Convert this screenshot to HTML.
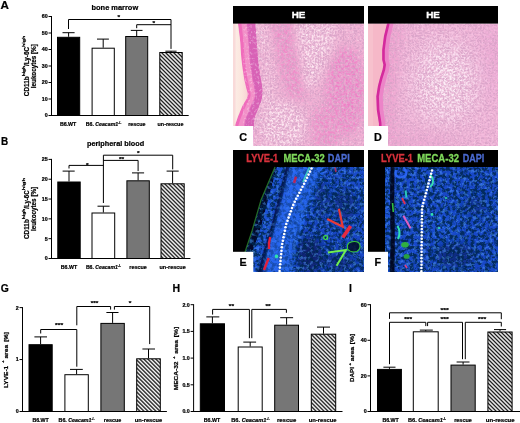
<!DOCTYPE html>
<html><head><meta charset="utf-8"><style>
html,body{margin:0;padding:0;background:#fff;}
svg{display:block;font-family:"Liberation Sans", sans-serif;will-change:transform;}
text{stroke:#000;stroke-width:0.22px;}
text.w{stroke:#fff;stroke-width:0.35px;}
text.r{stroke:#d8323c;stroke-width:0.3px;}
text.g{stroke:#7ed85a;stroke-width:0.3px;}
text.b{stroke:#4a6ad0;stroke-width:0.3px;}
</style></head><body>
<svg width="520" height="423" viewBox="0 0 520 423">
<defs>
<pattern id="hatch" patternUnits="userSpaceOnUse" width="2.83" height="2.83" patternTransform="rotate(-45)">
<rect x="0" y="0" width="2.83" height="2.83" fill="#fff"/>
<rect x="0" y="0" width="1.25" height="2.83" fill="#000"/>
</pattern>
</defs>
<rect width="520" height="423" fill="#fff"/>

<text x="0.60" y="9.00" font-size="11.6" font-weight="bold" fill="#000" textLength="8.40" lengthAdjust="spacingAndGlyphs">A</text>
<text x="91.50" y="9.50" font-size="7.4" font-weight="bold" fill="#000" textLength="46.70" lengthAdjust="spacingAndGlyphs">bone marrow</text>
<line x1="51.50" y1="16.00" x2="51.50" y2="116.00" stroke="#000" stroke-width="1.0"/>
<line x1="48.50" y1="16.50" x2="51.50" y2="16.50" stroke="#000" stroke-width="1.0"/>
<text x="47.70" y="18.40" font-size="5.3" font-weight="bold" text-anchor="end">60</text>
<line x1="48.50" y1="33.00" x2="51.50" y2="33.00" stroke="#000" stroke-width="1.0"/>
<text x="47.70" y="34.90" font-size="5.3" font-weight="bold" text-anchor="end">50</text>
<line x1="48.50" y1="49.50" x2="51.50" y2="49.50" stroke="#000" stroke-width="1.0"/>
<text x="47.70" y="51.40" font-size="5.3" font-weight="bold" text-anchor="end">40</text>
<line x1="48.50" y1="66.00" x2="51.50" y2="66.00" stroke="#000" stroke-width="1.0"/>
<text x="47.70" y="67.90" font-size="5.3" font-weight="bold" text-anchor="end">30</text>
<line x1="48.50" y1="82.50" x2="51.50" y2="82.50" stroke="#000" stroke-width="1.0"/>
<text x="47.70" y="84.40" font-size="5.3" font-weight="bold" text-anchor="end">20</text>
<line x1="48.50" y1="99.00" x2="51.50" y2="99.00" stroke="#000" stroke-width="1.0"/>
<text x="47.70" y="100.90" font-size="5.3" font-weight="bold" text-anchor="end">10</text>
<line x1="48.50" y1="115.50" x2="51.50" y2="115.50" stroke="#000" stroke-width="1.0"/>
<text x="47.70" y="117.40" font-size="5.3" font-weight="bold" text-anchor="end">0</text>
<line x1="51.50" y1="115.50" x2="188.70" y2="115.50" stroke="#000" stroke-width="1.0"/>
<line x1="68.60" y1="36.80" x2="68.60" y2="32.70" stroke="#000" stroke-width="1.0"/>
<line x1="62.50" y1="32.70" x2="74.60" y2="32.70" stroke="#000" stroke-width="1.0"/>
<rect x="57.50" y="37.30" width="22.20" height="78.20" fill="#000" stroke="#000" stroke-width="1.0"/>
<line x1="103.20" y1="47.70" x2="103.20" y2="39.10" stroke="#000" stroke-width="1.0"/>
<line x1="97.00" y1="39.10" x2="108.90" y2="39.10" stroke="#000" stroke-width="1.0"/>
<rect x="92.10" y="48.20" width="22.20" height="67.30" fill="#fff" stroke="#000" stroke-width="1.0"/>
<line x1="136.70" y1="36.00" x2="136.70" y2="30.40" stroke="#000" stroke-width="1.0"/>
<line x1="130.80" y1="30.40" x2="142.50" y2="30.40" stroke="#000" stroke-width="1.0"/>
<rect x="125.70" y="36.50" width="22.00" height="79.00" fill="#767676" stroke="#000" stroke-width="1.0"/>
<line x1="171.00" y1="52.00" x2="171.00" y2="51.20" stroke="#000" stroke-width="1.0"/>
<line x1="165.40" y1="51.20" x2="176.60" y2="51.20" stroke="#000" stroke-width="1.0"/>
<rect x="159.80" y="52.50" width="22.40" height="63.00" fill="url(#hatch)" stroke="#000" stroke-width="1.0"/>
<polyline points="68.50,29.00 68.50,19.50 171.00,19.50 171.00,48.90" fill="none" stroke="#000" stroke-width="1.0"/>
<polyline points="136.70,28.20 136.70,24.70 171.00,24.70" fill="none" stroke="#000" stroke-width="1.0"/>
<text x="117.40" y="18.90" font-size="5.3" font-weight="bold" fill="#000" textLength="2.60" lengthAdjust="spacingAndGlyphs">*</text>
<text x="152.50" y="25.00" font-size="5.3" font-weight="bold" fill="#000" textLength="2.60" lengthAdjust="spacingAndGlyphs">*</text>
<text x="59.90" y="125.80" font-size="5.5" font-weight="bold" textLength="16.40" lengthAdjust="spacingAndGlyphs">B6.WT</text>
<text x="85.75" y="125.80" font-size="5.5" font-weight="bold" textLength="35.50" lengthAdjust="spacingAndGlyphs">B6. <tspan font-style="italic">Ceacam1</tspan><tspan font-size="3.4" dy="-2.2">-/-</tspan></text>
<text x="128.15" y="125.80" font-size="5.5" font-weight="bold" textLength="17.30" lengthAdjust="spacingAndGlyphs">rescue</text>
<text x="157.55" y="125.80" font-size="5.5" font-weight="bold" textLength="25.90" lengthAdjust="spacingAndGlyphs">un-rescue</text>
<g transform="translate(28.80,96.20) rotate(-90)">
<text x="0.00" y="0.00" font-size="6.3" font-weight="bold" textLength="19.90" lengthAdjust="spacingAndGlyphs">CD11b</text>
<text x="19.90" y="-3.70" font-size="4.0" font-weight="bold" textLength="10.30" lengthAdjust="spacingAndGlyphs">high</text>
<text x="30.20" y="0.00" font-size="6.3" font-weight="bold" textLength="19.00" lengthAdjust="spacingAndGlyphs">/Ly-6C</text>
<text x="49.20" y="-3.70" font-size="4.0" font-weight="bold" textLength="11.30" lengthAdjust="spacingAndGlyphs">high</text>
</g>
<g transform="translate(36.40,88.20) rotate(-90)">
<text x="0.00" y="0.00" font-size="6.3" font-weight="bold" textLength="44.00" lengthAdjust="spacingAndGlyphs">leukocytes [%]</text>
</g>
<text x="0.90" y="145.00" font-size="11.6" font-weight="bold" fill="#000" textLength="7.20" lengthAdjust="spacingAndGlyphs">B</text>
<text x="87.00" y="146.00" font-size="7.3" font-weight="bold" fill="#000" textLength="57.10" lengthAdjust="spacingAndGlyphs">peripheral blood</text>
<line x1="51.50" y1="158.90" x2="51.50" y2="259.00" stroke="#000" stroke-width="1.0"/>
<line x1="48.50" y1="159.40" x2="51.50" y2="159.40" stroke="#000" stroke-width="1.0"/>
<text x="47.70" y="161.30" font-size="5.3" font-weight="bold" text-anchor="end">25</text>
<line x1="48.50" y1="179.22" x2="51.50" y2="179.22" stroke="#000" stroke-width="1.0"/>
<text x="47.70" y="181.12" font-size="5.3" font-weight="bold" text-anchor="end">20</text>
<line x1="48.50" y1="199.04" x2="51.50" y2="199.04" stroke="#000" stroke-width="1.0"/>
<text x="47.70" y="200.94" font-size="5.3" font-weight="bold" text-anchor="end">15</text>
<line x1="48.50" y1="218.86" x2="51.50" y2="218.86" stroke="#000" stroke-width="1.0"/>
<text x="47.70" y="220.76" font-size="5.3" font-weight="bold" text-anchor="end">10</text>
<line x1="48.50" y1="238.68" x2="51.50" y2="238.68" stroke="#000" stroke-width="1.0"/>
<text x="47.70" y="240.58" font-size="5.3" font-weight="bold" text-anchor="end">5</text>
<line x1="48.50" y1="258.50" x2="51.50" y2="258.50" stroke="#000" stroke-width="1.0"/>
<text x="47.70" y="260.40" font-size="5.3" font-weight="bold" text-anchor="end">0</text>
<line x1="51.50" y1="258.50" x2="190.40" y2="258.50" stroke="#000" stroke-width="1.0"/>
<line x1="69.00" y1="181.50" x2="69.00" y2="171.10" stroke="#000" stroke-width="1.0"/>
<line x1="62.60" y1="171.10" x2="74.70" y2="171.10" stroke="#000" stroke-width="1.0"/>
<rect x="57.80" y="182.00" width="22.40" height="76.50" fill="#000" stroke="#000" stroke-width="1.0"/>
<line x1="103.35" y1="212.50" x2="103.35" y2="206.20" stroke="#000" stroke-width="1.0"/>
<line x1="97.50" y1="206.20" x2="109.60" y2="206.20" stroke="#000" stroke-width="1.0"/>
<rect x="92.00" y="213.00" width="22.70" height="45.50" fill="#fff" stroke="#000" stroke-width="1.0"/>
<line x1="138.10" y1="180.30" x2="138.10" y2="172.90" stroke="#000" stroke-width="1.0"/>
<line x1="132.00" y1="172.90" x2="144.10" y2="172.90" stroke="#000" stroke-width="1.0"/>
<rect x="126.90" y="180.80" width="22.40" height="77.70" fill="#767676" stroke="#000" stroke-width="1.0"/>
<line x1="172.60" y1="183.30" x2="172.60" y2="171.10" stroke="#000" stroke-width="1.0"/>
<line x1="166.60" y1="171.10" x2="178.70" y2="171.10" stroke="#000" stroke-width="1.0"/>
<rect x="161.00" y="183.80" width="23.20" height="74.70" fill="url(#hatch)" stroke="#000" stroke-width="1.0"/>
<polyline points="69.00,168.50 69.00,165.40 103.40,165.40" fill="none" stroke="#000" stroke-width="1.0"/>
<polyline points="103.40,203.00 103.40,155.20 172.70,155.20 172.70,169.40" fill="none" stroke="#000" stroke-width="1.0"/>
<polyline points="103.40,160.40 138.10,160.40 138.10,171.10" fill="none" stroke="#000" stroke-width="1.0"/>
<text x="85.90" y="166.50" font-size="5.3" font-weight="bold" fill="#000" textLength="2.60" lengthAdjust="spacingAndGlyphs">*</text>
<text x="119.00" y="160.70" font-size="5.3" font-weight="bold" fill="#000" textLength="5.20" lengthAdjust="spacingAndGlyphs">**</text>
<text x="137.10" y="155.00" font-size="5.3" font-weight="bold" fill="#000" textLength="2.60" lengthAdjust="spacingAndGlyphs">*</text>
<text x="60.80" y="269.00" font-size="5.5" font-weight="bold" textLength="16.40" lengthAdjust="spacingAndGlyphs">B6.WT</text>
<text x="85.90" y="269.00" font-size="5.5" font-weight="bold" textLength="35.00" lengthAdjust="spacingAndGlyphs">B6. <tspan font-style="italic">Ceacam1</tspan><tspan font-size="3.4" dy="-2.2">-/-</tspan></text>
<text x="129.30" y="269.00" font-size="5.5" font-weight="bold" textLength="17.60" lengthAdjust="spacingAndGlyphs">rescue</text>
<text x="159.45" y="269.00" font-size="5.5" font-weight="bold" textLength="26.30" lengthAdjust="spacingAndGlyphs">un-rescue</text>
<g transform="translate(28.90,239.00) rotate(-90)">
<text x="0.00" y="0.00" font-size="6.3" font-weight="bold" textLength="19.80" lengthAdjust="spacingAndGlyphs">CD11b</text>
<text x="19.80" y="-3.70" font-size="4.0" font-weight="bold" textLength="10.40" lengthAdjust="spacingAndGlyphs">high</text>
<text x="30.20" y="0.00" font-size="6.3" font-weight="bold" textLength="18.50" lengthAdjust="spacingAndGlyphs">/Ly-6C</text>
<text x="48.70" y="-3.70" font-size="4.0" font-weight="bold" textLength="12.30" lengthAdjust="spacingAndGlyphs">high</text>
</g>
<g transform="translate(36.40,231.00) rotate(-90)">
<text x="0.00" y="0.00" font-size="6.3" font-weight="bold" textLength="44.20" lengthAdjust="spacingAndGlyphs">leukocytes [%]</text>
</g>
<text x="0.80" y="292.00" font-size="11.6" font-weight="bold" fill="#000" textLength="8.10" lengthAdjust="spacingAndGlyphs">G</text>
<line x1="22.50" y1="307.10" x2="22.50" y2="412.00" stroke="#000" stroke-width="1.0"/>
<line x1="19.50" y1="307.60" x2="22.50" y2="307.60" stroke="#000" stroke-width="1.0"/>
<text x="18.70" y="309.50" font-size="5.3" font-weight="bold" text-anchor="end">2</text>
<line x1="19.50" y1="359.55" x2="22.50" y2="359.55" stroke="#000" stroke-width="1.0"/>
<text x="18.70" y="361.45" font-size="5.3" font-weight="bold" text-anchor="end">1</text>
<line x1="19.50" y1="411.50" x2="22.50" y2="411.50" stroke="#000" stroke-width="1.0"/>
<text x="18.70" y="413.40" font-size="5.3" font-weight="bold" text-anchor="end">0</text>
<line x1="22.50" y1="411.50" x2="166.90" y2="411.50" stroke="#000" stroke-width="1.0"/>
<line x1="40.60" y1="344.20" x2="40.60" y2="336.90" stroke="#000" stroke-width="1.0"/>
<line x1="34.40" y1="336.90" x2="47.00" y2="336.90" stroke="#000" stroke-width="1.0"/>
<rect x="29.00" y="344.70" width="23.20" height="66.80" fill="#000" stroke="#000" stroke-width="1.0"/>
<line x1="76.60" y1="374.20" x2="76.60" y2="369.40" stroke="#000" stroke-width="1.0"/>
<line x1="70.00" y1="369.40" x2="82.80" y2="369.40" stroke="#000" stroke-width="1.0"/>
<rect x="64.90" y="374.70" width="23.40" height="36.80" fill="#fff" stroke="#000" stroke-width="1.0"/>
<line x1="112.60" y1="322.90" x2="112.60" y2="312.50" stroke="#000" stroke-width="1.0"/>
<line x1="106.40" y1="312.50" x2="118.50" y2="312.50" stroke="#000" stroke-width="1.0"/>
<rect x="100.90" y="323.40" width="23.40" height="88.10" fill="#767676" stroke="#000" stroke-width="1.0"/>
<line x1="148.50" y1="358.30" x2="148.50" y2="349.00" stroke="#000" stroke-width="1.0"/>
<line x1="142.40" y1="349.00" x2="155.00" y2="349.00" stroke="#000" stroke-width="1.0"/>
<rect x="136.70" y="358.80" width="23.60" height="52.70" fill="url(#hatch)" stroke="#000" stroke-width="1.0"/>
<polyline points="40.70,333.50 40.70,329.50 76.80,329.50 76.80,366.70" fill="none" stroke="#000" stroke-width="1.0"/>
<polyline points="76.80,325.30 76.80,306.50 110.60,306.50 110.60,309.60" fill="none" stroke="#000" stroke-width="1.0"/>
<polyline points="114.40,309.60 114.40,306.50 149.70,306.50 149.70,344.10" fill="none" stroke="#000" stroke-width="1.0"/>
<text x="55.10" y="327.30" font-size="5.3" font-weight="bold" fill="#000" textLength="8.00" lengthAdjust="spacingAndGlyphs">***</text>
<text x="90.80" y="304.80" font-size="5.3" font-weight="bold" fill="#000" textLength="7.60" lengthAdjust="spacingAndGlyphs">***</text>
<text x="128.80" y="304.70" font-size="5.3" font-weight="bold" fill="#000" textLength="2.60" lengthAdjust="spacingAndGlyphs">*</text>
<text x="32.40" y="422.20" font-size="5.5" font-weight="bold" textLength="16.40" lengthAdjust="spacingAndGlyphs">B6.WT</text>
<text x="58.60" y="422.20" font-size="5.5" font-weight="bold" textLength="36.00" lengthAdjust="spacingAndGlyphs">B6. <tspan font-style="italic">Ceacam1</tspan><tspan font-size="3.4" dy="-2.2">-/-</tspan></text>
<text x="103.80" y="422.20" font-size="5.5" font-weight="bold" textLength="17.60" lengthAdjust="spacingAndGlyphs">rescue</text>
<text x="134.85" y="422.20" font-size="5.5" font-weight="bold" textLength="27.30" lengthAdjust="spacingAndGlyphs">un-rescue</text>
<g transform="translate(7.90,388.10) rotate(-90)">
<text x="0.00" y="0.00" font-size="6.2" font-weight="bold" textLength="22.30" lengthAdjust="spacingAndGlyphs">LYVE-1</text>
<text x="25.00" y="-3.60" font-size="4.2" font-weight="bold" textLength="2.60" lengthAdjust="spacingAndGlyphs">+</text>
<text x="29.50" y="0.00" font-size="6.2" font-weight="bold" textLength="13.70" lengthAdjust="spacingAndGlyphs">area</text>
<text x="46.40" y="0.00" font-size="6.2" font-weight="bold" textLength="9.60" lengthAdjust="spacingAndGlyphs">[%]</text>
</g>
<text x="172.40" y="292.00" font-size="11.6" font-weight="bold" fill="#000" textLength="7.60" lengthAdjust="spacingAndGlyphs">H</text>
<line x1="193.60" y1="304.20" x2="193.60" y2="412.00" stroke="#000" stroke-width="1.0"/>
<line x1="190.60" y1="304.70" x2="193.60" y2="304.70" stroke="#000" stroke-width="1.0"/>
<text x="189.80" y="306.60" font-size="5.3" font-weight="bold" text-anchor="end">2.0</text>
<line x1="190.60" y1="331.40" x2="193.60" y2="331.40" stroke="#000" stroke-width="1.0"/>
<text x="189.80" y="333.30" font-size="5.3" font-weight="bold" text-anchor="end">1.5</text>
<line x1="190.60" y1="358.10" x2="193.60" y2="358.10" stroke="#000" stroke-width="1.0"/>
<text x="189.80" y="360.00" font-size="5.3" font-weight="bold" text-anchor="end">1.0</text>
<line x1="190.60" y1="384.80" x2="193.60" y2="384.80" stroke="#000" stroke-width="1.0"/>
<text x="189.80" y="386.70" font-size="5.3" font-weight="bold" text-anchor="end">0.5</text>
<line x1="190.60" y1="411.50" x2="193.60" y2="411.50" stroke="#000" stroke-width="1.0"/>
<text x="189.80" y="413.40" font-size="5.3" font-weight="bold" text-anchor="end">0.0</text>
<line x1="193.60" y1="411.50" x2="342.50" y2="411.50" stroke="#000" stroke-width="1.0"/>
<line x1="212.40" y1="323.30" x2="212.40" y2="316.90" stroke="#000" stroke-width="1.0"/>
<line x1="206.30" y1="316.90" x2="219.30" y2="316.90" stroke="#000" stroke-width="1.0"/>
<rect x="200.30" y="323.80" width="24.20" height="87.70" fill="#000" stroke="#000" stroke-width="1.0"/>
<line x1="250.20" y1="346.50" x2="250.20" y2="342.10" stroke="#000" stroke-width="1.0"/>
<line x1="243.30" y1="342.10" x2="256.10" y2="342.10" stroke="#000" stroke-width="1.0"/>
<rect x="238.20" y="347.00" width="24.00" height="64.50" fill="#fff" stroke="#000" stroke-width="1.0"/>
<line x1="286.60" y1="324.70" x2="286.60" y2="317.70" stroke="#000" stroke-width="1.0"/>
<line x1="280.20" y1="317.70" x2="293.10" y2="317.70" stroke="#000" stroke-width="1.0"/>
<rect x="274.70" y="325.20" width="23.80" height="86.30" fill="#767676" stroke="#000" stroke-width="1.0"/>
<line x1="323.50" y1="333.70" x2="323.50" y2="327.10" stroke="#000" stroke-width="1.0"/>
<line x1="317.00" y1="327.10" x2="330.00" y2="327.10" stroke="#000" stroke-width="1.0"/>
<rect x="311.30" y="334.20" width="24.40" height="77.30" fill="url(#hatch)" stroke="#000" stroke-width="1.0"/>
<polyline points="212.60,314.60 212.60,309.40 249.40,309.40 249.40,338.20" fill="none" stroke="#000" stroke-width="1.0"/>
<polyline points="251.80,338.20 251.80,309.40 286.40,309.40 286.40,312.80" fill="none" stroke="#000" stroke-width="1.0"/>
<text x="228.80" y="308.30" font-size="5.3" font-weight="bold" fill="#000" textLength="5.20" lengthAdjust="spacingAndGlyphs">**</text>
<text x="265.50" y="308.10" font-size="5.3" font-weight="bold" fill="#000" textLength="5.20" lengthAdjust="spacingAndGlyphs">**</text>
<text x="203.75" y="422.20" font-size="5.5" font-weight="bold" textLength="16.50" lengthAdjust="spacingAndGlyphs">B6.WT</text>
<text x="231.30" y="422.20" font-size="5.5" font-weight="bold" textLength="38.40" lengthAdjust="spacingAndGlyphs">B6. <tspan font-style="italic">Ceacam1</tspan><tspan font-size="3.4" dy="-2.2">-/-</tspan></text>
<text x="276.95" y="422.20" font-size="5.5" font-weight="bold" textLength="19.30" lengthAdjust="spacingAndGlyphs">rescue</text>
<text x="308.70" y="422.20" font-size="5.5" font-weight="bold" textLength="27.80" lengthAdjust="spacingAndGlyphs">un-rescue</text>
<g transform="translate(178.40,390.30) rotate(-90)">
<text x="0.00" y="0.00" font-size="6.2" font-weight="bold" textLength="28.80" lengthAdjust="spacingAndGlyphs">MECA-32</text>
<text x="31.20" y="-3.60" font-size="4.2" font-weight="bold" textLength="2.60" lengthAdjust="spacingAndGlyphs">+</text>
<text x="36.50" y="0.00" font-size="6.2" font-weight="bold" textLength="13.80" lengthAdjust="spacingAndGlyphs">area</text>
<text x="53.00" y="0.00" font-size="6.2" font-weight="bold" textLength="10.50" lengthAdjust="spacingAndGlyphs">[%]</text>
</g>
<text x="349.00" y="292.00" font-size="11.6" font-weight="bold" fill="#000" textLength="2.90" lengthAdjust="spacingAndGlyphs">I</text>
<line x1="370.50" y1="304.20" x2="370.50" y2="412.00" stroke="#000" stroke-width="1.0"/>
<line x1="367.50" y1="304.70" x2="370.50" y2="304.70" stroke="#000" stroke-width="1.0"/>
<text x="366.70" y="306.60" font-size="5.3" font-weight="bold" text-anchor="end">60</text>
<line x1="367.50" y1="340.30" x2="370.50" y2="340.30" stroke="#000" stroke-width="1.0"/>
<text x="366.70" y="342.20" font-size="5.3" font-weight="bold" text-anchor="end">40</text>
<line x1="367.50" y1="375.90" x2="370.50" y2="375.90" stroke="#000" stroke-width="1.0"/>
<text x="366.70" y="377.80" font-size="5.3" font-weight="bold" text-anchor="end">20</text>
<line x1="367.50" y1="411.50" x2="370.50" y2="411.50" stroke="#000" stroke-width="1.0"/>
<text x="366.70" y="413.40" font-size="5.3" font-weight="bold" text-anchor="end">0</text>
<line x1="370.50" y1="411.50" x2="520.00" y2="411.50" stroke="#000" stroke-width="1.0"/>
<line x1="389.45" y1="368.90" x2="389.45" y2="367.20" stroke="#000" stroke-width="1.0"/>
<line x1="383.40" y1="367.20" x2="395.50" y2="367.20" stroke="#000" stroke-width="1.0"/>
<rect x="377.50" y="369.40" width="23.90" height="42.10" fill="#000" stroke="#000" stroke-width="1.0"/>
<line x1="425.75" y1="331.30" x2="425.75" y2="330.10" stroke="#000" stroke-width="1.0"/>
<line x1="419.80" y1="330.10" x2="432.80" y2="330.10" stroke="#000" stroke-width="1.0"/>
<rect x="413.30" y="331.80" width="24.90" height="79.70" fill="#fff" stroke="#000" stroke-width="1.0"/>
<line x1="463.10" y1="364.60" x2="463.10" y2="362.00" stroke="#000" stroke-width="1.0"/>
<line x1="456.60" y1="362.00" x2="469.50" y2="362.00" stroke="#000" stroke-width="1.0"/>
<rect x="451.00" y="365.10" width="24.20" height="46.40" fill="#767676" stroke="#000" stroke-width="1.0"/>
<line x1="500.00" y1="331.50" x2="500.00" y2="329.60" stroke="#000" stroke-width="1.0"/>
<line x1="494.00" y1="329.60" x2="506.10" y2="329.60" stroke="#000" stroke-width="1.0"/>
<rect x="487.90" y="332.00" width="24.20" height="79.50" fill="url(#hatch)" stroke="#000" stroke-width="1.0"/>
<polyline points="389.50,318.90 389.50,312.80 501.30,312.80 501.30,319.20" fill="none" stroke="#000" stroke-width="1.0"/>
<polyline points="389.50,364.20 389.50,322.30 425.80,322.30 425.80,326.10" fill="none" stroke="#000" stroke-width="1.0"/>
<polyline points="427.60,326.10 427.60,322.30 462.50,322.30 462.50,359.20" fill="none" stroke="#000" stroke-width="1.0"/>
<polyline points="465.30,359.20 465.30,322.30 501.30,322.30 501.30,326.50" fill="none" stroke="#000" stroke-width="1.0"/>
<text x="440.60" y="311.70" font-size="5.3" font-weight="bold" fill="#000" textLength="8.30" lengthAdjust="spacingAndGlyphs">***</text>
<text x="404.20" y="320.90" font-size="5.3" font-weight="bold" fill="#000" textLength="7.80" lengthAdjust="spacingAndGlyphs">***</text>
<text x="440.60" y="320.90" font-size="5.3" font-weight="bold" fill="#000" textLength="8.30" lengthAdjust="spacingAndGlyphs">***</text>
<text x="478.10" y="320.90" font-size="5.3" font-weight="bold" fill="#000" textLength="8.10" lengthAdjust="spacingAndGlyphs">***</text>
<text x="382.40" y="422.20" font-size="5.5" font-weight="bold" textLength="16.40" lengthAdjust="spacingAndGlyphs">B6.WT</text>
<text x="408.00" y="422.20" font-size="5.5" font-weight="bold" textLength="38.00" lengthAdjust="spacingAndGlyphs">B6. <tspan font-style="italic">Ceacam1</tspan><tspan font-size="3.4" dy="-2.2">-/-</tspan></text>
<text x="454.15" y="422.20" font-size="5.5" font-weight="bold" textLength="17.70" lengthAdjust="spacingAndGlyphs">rescue</text>
<text x="485.80" y="422.20" font-size="5.5" font-weight="bold" textLength="28.80" lengthAdjust="spacingAndGlyphs">un-rescue</text>
<g transform="translate(354.10,382.00) rotate(-90)">
<text x="0.00" y="0.00" font-size="6.2" font-weight="bold" textLength="15.00" lengthAdjust="spacingAndGlyphs">DAPI</text>
<text x="16.50" y="-3.60" font-size="4.2" font-weight="bold" textLength="2.60" lengthAdjust="spacingAndGlyphs">+</text>
<text x="20.80" y="0.00" font-size="6.2" font-weight="bold" textLength="14.40" lengthAdjust="spacingAndGlyphs">area</text>
<text x="37.80" y="0.00" font-size="6.2" font-weight="bold" textLength="10.30" lengthAdjust="spacingAndGlyphs">[%]</text>
</g>
<defs>
<filter id="blur2" x="-50%" y="-50%" width="200%" height="200%"><feGaussianBlur stdDeviation="6"/></filter>
<filter id="blur4" x="-50%" y="-50%" width="200%" height="200%"><feGaussianBlur stdDeviation="10"/></filter>
<filter id="blur1" x="-20%" y="-20%" width="140%" height="140%"><feGaussianBlur stdDeviation="0.6"/></filter>
<filter id="blur3" x="-50%" y="-50%" width="200%" height="200%"><feGaussianBlur stdDeviation="4"/></filter>
<filter id="blurS" x="-20%" y="-20%" width="140%" height="140%"><feGaussianBlur stdDeviation="1.5"/></filter>
<filter id="noiseP" x="0" y="0" width="100%" height="100%">
 <feTurbulence type="fractalNoise" baseFrequency="0.32" numOctaves="2" seed="3" result="n"/>
 <feColorMatrix in="n" type="matrix" values="0 0 0 0 0.88  0 0 0 0 0.46  0 0 0 0 0.66  0 0 0 -4.5 2.4"/>
</filter>
<filter id="nuc" x="0" y="0" width="100%" height="100%">
 <feTurbulence type="fractalNoise" baseFrequency="0.5" numOctaves="1" seed="21" result="n"/>
 <feColorMatrix in="n" type="matrix" values="0 0 0 0 0.76  0 0 0 0 0.4  0 0 0 0 0.62  0 0 0 -7 4.0"/>
</filter>
<filter id="nuc2" x="0" y="0" width="100%" height="100%">
 <feTurbulence type="turbulence" baseFrequency="0.4" numOctaves="1" seed="31" result="n"/>
 <feColorMatrix in="n" type="matrix" values="0 0 0 0 0.66  0 0 0 0 0.34  0 0 0 0 0.56  8 0 0 0 -1.6"/>
</filter>
<filter id="noiseW" x="0" y="0" width="100%" height="100%">
 <feTurbulence type="fractalNoise" baseFrequency="0.38" numOctaves="2" seed="7" result="n"/>
 <feColorMatrix in="n" type="matrix" values="0 0 0 0 1  0 0 0 0 1  0 0 0 0 1  0 0 0 3.0 -1.55"/>
</filter>
<filter id="noiseB" x="0" y="0" width="100%" height="100%">
 <feTurbulence type="fractalNoise" baseFrequency="0.28" numOctaves="3" seed="11" result="n"/>
 <feColorMatrix in="n" type="matrix" values="0 0 0 0 0  0 0 0 0 0.02  0 0 0 0 0.08  0 0 0 -5.0 2.95"/>
</filter>
<filter id="noiseBB" x="0" y="0" width="100%" height="100%">
 <feTurbulence type="fractalNoise" baseFrequency="0.3" numOctaves="3" seed="5" result="n"/>
 <feColorMatrix in="n" type="matrix" values="0 0 0 0 0.1  0 0 0 0 0.36  0 0 0 0 1  0 0 0 5.0 -2.6"/>
</filter>
<linearGradient id="lumC" gradientUnits="userSpaceOnUse" x1="233" y1="0" x2="248" y2="0"><stop offset="0" stop-color="#fcefe8"/><stop offset="0.6" stop-color="#fbe4dc"/><stop offset="1" stop-color="#f8d2d4"/></linearGradient>
<clipPath id="cpC"><rect x="233" y="23.5" width="131" height="122.5"/></clipPath>
<clipPath id="cpD"><rect x="368" y="23.5" width="130" height="122.5"/></clipPath>
<clipPath id="cpE"><rect x="233" y="150" width="131" height="122"/></clipPath>
<clipPath id="cpF"><rect x="368" y="150" width="130" height="122"/></clipPath>
</defs>
<g clip-path="url(#cpC)">
<rect x="233" y="23.5" width="131" height="122.5" fill="#f3b2d5"/>
<g filter="url(#blur3)">
<path d="M258,24 L270,24 L272,60 L276,100 L280,146 L262,146 L262,100 L264,60 Z" fill="#f9d4e6"/>
<path d="M268,22 L294,22 L300,60 L307,96 L292,102 L280,70 Z" fill="#f08ac8"/>
<path d="M294,22 L336,22 L332,50 L318,82 L306,92 L300,58 Z" fill="#fce2ee"/>
<ellipse cx="284" cy="126" rx="22" ry="24" fill="#fce2ee"/>
<ellipse cx="346" cy="92" rx="20" ry="44" fill="#ef80c6"/>
<ellipse cx="326" cy="128" rx="16" ry="22" fill="#f08ac8"/>
<ellipse cx="350" cy="34" rx="14" ry="10" fill="#f4b8d8"/>
</g>
<rect x="233" y="23.5" width="131" height="122.5" filter="url(#noiseP)" opacity="0.7"/>
<rect x="233" y="23.5" width="131" height="122.5" filter="url(#noiseW)" opacity="0.35"/>
<rect x="233" y="23.5" width="131" height="122.5" filter="url(#nuc)" opacity="0.8"/>
<rect x="233" y="23.5" width="131" height="122.5" filter="url(#nuc2)" opacity="0.65"/>
<path d="M237.5,20.0 L237.5,20.3 L237.6,20.6 L237.6,21.0 L237.7,21.6 L237.8,22.6 L238.0,24.0 L238.3,25.9 L238.6,28.3 L238.9,31.0 L239.3,33.9 L239.7,37.0 L240.0,40.0 L240.3,43.1 L240.5,46.4 L240.7,49.9 L240.9,53.3 L241.2,56.7 L241.5,60.0 L241.9,63.2 L242.3,66.4 L242.7,69.6 L243.2,72.7 L243.6,75.5 L244.0,78.0 L244.4,80.2 L244.8,82.0 L245.2,83.6 L245.5,85.1 L245.9,86.5 L246.2,88.0 L246.6,89.4 L247.0,90.8 L247.3,92.1 L247.6,93.3 L247.7,94.6 L247.6,96.0 L247.2,97.4 L246.5,98.9 L245.6,100.4 L244.7,101.9 L243.7,103.4 L242.9,105.0 L242.1,106.6 L241.4,108.3 L240.7,110.0 L239.9,111.7 L239.3,113.4 L238.6,115.0 L238.0,116.6 L237.4,118.2 L236.9,119.8 L236.4,121.3 L235.8,122.7 L235.3,124.0 L234.7,125.2 L234.1,126.4 L233.4,127.6 L232.9,128.6 L232.4,129.4 L232.0,130.0 L253.0,146.0 L253.1,143.0 L253.2,138.7 L253.4,133.6 L253.6,128.4 L253.9,123.7 L254.2,120.0 L254.6,117.3 L255.2,115.3 L255.8,113.7 L256.4,112.4 L257.0,111.2 L257.5,110.0 L257.9,108.9 L258.3,108.0 L258.6,107.3 L258.9,106.6 L259.2,105.9 L259.5,105.0 L259.9,104.0 L260.3,102.9 L260.8,101.8 L261.2,100.6 L261.5,99.4 L261.8,98.0 L262.0,96.5 L262.2,94.9 L262.2,93.2 L262.3,91.4 L262.3,89.7 L262.2,88.0 L262.0,86.4 L261.8,85.0 L261.5,83.5 L261.2,81.9 L260.9,80.1 L260.5,78.0 L260.1,75.5 L259.7,72.7 L259.2,69.6 L258.8,66.4 L258.4,63.2 L258.0,60.0 L257.7,56.7 L257.4,53.3 L257.2,49.9 L256.9,46.4 L256.7,43.1 L256.5,40.0 L256.3,37.0 L256.0,33.9 L255.8,31.0 L255.6,28.3 L255.4,25.9 L255.3,24.0 L255.2,22.6 L255.1,21.6 L255.1,21.0 L255.0,20.6 L255.0,20.3 L255.0,20.0 Z" fill="#de6cbc"/>
<path d="M237.5,20.0 L237.5,20.3 L237.6,20.6 L237.6,21.0 L237.7,21.6 L237.8,22.6 L238.0,24.0 L238.3,25.9 L238.6,28.3 L238.9,31.0 L239.3,33.9 L239.7,37.0 L240.0,40.0 L240.3,43.1 L240.5,46.4 L240.7,49.9 L240.9,53.3 L241.2,56.7 L241.5,60.0 L241.9,63.2 L242.3,66.4 L242.7,69.6 L243.2,72.7 L243.6,75.5 L244.0,78.0 L244.4,80.2 L244.8,82.0 L245.2,83.6 L245.5,85.1 L245.9,86.5 L246.2,88.0 L246.6,89.4 L247.0,90.8 L247.3,92.1 L247.6,93.3 L247.7,94.6 L247.6,96.0 L247.2,97.4 L246.5,98.9 L245.6,100.4 L244.7,101.9 L243.7,103.4 L242.9,105.0 L242.1,106.6 L241.4,108.3 L240.7,110.0 L239.9,111.7 L239.3,113.4 L238.6,115.0 L238.0,116.6 L237.4,118.2 L236.9,119.8 L236.4,121.3 L235.8,122.7 L235.3,124.0 L234.7,125.2 L234.1,126.4 L233.4,127.6 L232.9,128.6 L232.4,129.4 L232.0,130.0 L242.5,138.0 L242.7,136.2 L243.0,133.6 L243.4,130.6 L243.8,127.4 L244.3,124.5 L244.8,122.0 L245.2,120.0 L245.8,118.3 L246.3,116.7 L246.9,115.3 L247.5,113.9 L248.1,112.5 L248.6,111.1 L249.1,109.9 L249.6,108.7 L250.1,107.5 L250.7,106.3 L251.2,105.0 L251.8,103.7 L252.5,102.4 L253.2,101.1 L253.8,99.8 L254.3,98.4 L254.7,97.0 L254.9,95.6 L254.9,94.1 L254.8,92.6 L254.6,91.1 L254.4,89.6 L254.2,88.0 L254.0,86.5 L253.7,85.0 L253.4,83.6 L253.0,82.0 L252.6,80.1 L252.2,78.0 L251.9,75.5 L251.4,72.7 L251.0,69.6 L250.5,66.4 L250.1,63.2 L249.8,60.0 L249.4,56.7 L249.2,53.3 L248.9,49.9 L248.7,46.4 L248.5,43.1 L248.2,40.0 L248.0,37.0 L247.7,33.9 L247.4,31.0 L247.1,28.3 L246.8,25.9 L246.7,24.0 L246.5,22.6 L246.4,21.6 L246.3,21.0 L246.3,20.6 L246.3,20.3 L246.2,20.0 Z" fill="#f290c8"/>
<path d="M237.5,20.0 L237.5,20.3 L237.6,20.6 L237.6,21.0 L237.7,21.6 L237.8,22.6 L238.0,24.0 L238.3,25.9 L238.6,28.3 L238.9,31.0 L239.3,33.9 L239.7,37.0 L240.0,40.0 L240.3,43.1 L240.5,46.4 L240.7,49.9 L240.9,53.3 L241.2,56.7 L241.5,60.0 L241.9,63.2 L242.3,66.4 L242.7,69.6 L243.2,72.7 L243.6,75.5 L244.0,78.0 L244.4,80.2 L244.8,82.0 L245.2,83.6 L245.5,85.1 L245.9,86.5 L246.2,88.0 L246.6,89.4 L247.0,90.8 L247.3,92.1 L247.6,93.3 L247.7,94.6 L247.6,96.0 L247.2,97.4 L246.5,98.9 L245.6,100.4 L244.7,101.9 L243.7,103.4 L242.9,105.0 L242.1,106.6 L241.4,108.3 L240.7,110.0 L239.9,111.7 L239.3,113.4 L238.6,115.0 L238.0,116.6 L237.4,118.2 L236.9,119.8 L236.4,121.3 L235.8,122.7 L235.3,124.0 L234.7,125.2 L234.1,126.4 L233.4,127.6 L232.9,128.6 L232.4,129.4 L232.0,130.0 L236.2,133.2 L236.5,132.1 L236.9,130.6 L237.4,128.8 L238.0,126.8 L238.5,124.9 L239.1,123.2 L239.6,121.6 L240.1,120.1 L240.7,118.5 L241.2,117.0 L241.8,115.5 L242.4,114.0 L243.0,112.5 L243.6,111.0 L244.2,109.5 L244.9,108.0 L245.6,106.5 L246.2,105.0 L247.0,103.5 L247.8,102.1 L248.6,100.7 L249.4,99.2 L250.0,97.8 L250.4,96.4 L250.6,95.0 L250.5,93.6 L250.3,92.3 L250.0,90.9 L249.7,89.5 L249.4,88.0 L249.1,86.5 L248.8,85.1 L248.4,83.6 L248.1,82.0 L247.7,80.1 L247.3,78.0 L246.9,75.5 L246.5,72.7 L246.0,69.6 L245.6,66.4 L245.2,63.2 L244.8,60.0 L244.5,56.7 L244.2,53.3 L244.0,49.9 L243.8,46.4 L243.6,43.1 L243.3,40.0 L243.0,37.0 L242.7,33.9 L242.3,31.0 L242.0,28.3 L241.7,25.9 L241.5,24.0 L241.3,22.6 L241.2,21.6 L241.1,21.0 L241.1,20.6 L241.0,20.3 L241.0,20.0 Z" fill="#f06cbc"/>
<path d="M247.1,20.0 L247.2,20.3 L247.2,20.6 L247.2,21.0 L247.3,21.6 L247.4,22.6 L247.5,24.0 L247.7,25.9 L248.0,28.3 L248.2,31.0 L248.5,33.9 L248.8,37.0 L249.1,40.0 L249.3,43.1 L249.5,46.4 L249.8,49.9 L250.0,53.3 L250.3,56.7 L250.6,60.0 L250.9,63.2 L251.4,66.4 L251.8,69.6 L252.2,72.7 L252.7,75.5 L253.1,78.0 L253.4,80.1 L253.8,82.0 L254.2,83.6 L254.5,85.0 L254.8,86.5 L255.0,88.0 L255.2,89.6 L255.4,91.1 L255.5,92.7 L255.6,94.2 L255.6,95.7 L255.4,97.1 L255.1,98.5 L254.6,99.8 L253.9,101.2 L253.3,102.5 L252.6,103.7 L252.0,105.0 L251.5,106.2 L251.0,107.4 L250.5,108.5 L250.0,109.7 L249.5,110.9 L249.0,112.2 L248.4,113.6 L247.9,115.0 L247.3,116.4 L246.7,118.0 L246.2,119.8 L245.7,121.8 L245.2,124.4 L244.8,127.5 L244.4,130.9 L244.1,134.1 L243.8,136.9 L243.6,138.8 L253.0,146.0 L253.1,143.0 L253.2,138.7 L253.4,133.6 L253.6,128.4 L253.9,123.7 L254.2,120.0 L254.6,117.3 L255.2,115.3 L255.8,113.7 L256.4,112.4 L257.0,111.2 L257.5,110.0 L257.9,108.9 L258.3,108.0 L258.6,107.3 L258.9,106.6 L259.2,105.9 L259.5,105.0 L259.9,104.0 L260.3,102.9 L260.8,101.8 L261.2,100.6 L261.5,99.4 L261.8,98.0 L262.0,96.5 L262.2,94.9 L262.2,93.2 L262.3,91.4 L262.3,89.7 L262.2,88.0 L262.0,86.4 L261.8,85.0 L261.5,83.5 L261.2,81.9 L260.9,80.1 L260.5,78.0 L260.1,75.5 L259.7,72.7 L259.2,69.6 L258.8,66.4 L258.4,63.2 L258.0,60.0 L257.7,56.7 L257.4,53.3 L257.2,49.9 L256.9,46.4 L256.7,43.1 L256.5,40.0 L256.3,37.0 L256.0,33.9 L255.8,31.0 L255.6,28.3 L255.4,25.9 L255.3,24.0 L255.2,22.6 L255.1,21.6 L255.1,21.0 L255.0,20.6 L255.0,20.3 L255.0,20.0 Z" fill="#d862b6"/>
<path d="M247.1,20.0 L247.2,20.3 L247.2,20.6 L247.2,21.0 L247.3,21.6 L247.4,22.6 L247.5,24.0 L247.7,25.9 L248.0,28.3 L248.2,31.0 L248.5,33.9 L248.8,37.0 L249.1,40.0 L249.3,43.1 L249.5,46.4 L249.8,49.9 L250.0,53.3 L250.3,56.7 L250.6,60.0 L250.9,63.2 L251.4,66.4 L251.8,69.6 L252.2,72.7 L252.7,75.5 L253.1,78.0 L253.4,80.1 L253.8,82.0 L254.2,83.6 L254.5,85.0 L254.8,86.5 L255.0,88.0 L255.2,89.6 L255.4,91.1 L255.5,92.7 L255.6,94.2 L255.6,95.7 L255.4,97.1 L255.1,98.5 L254.6,99.8 L253.9,101.2 L253.3,102.5 L252.6,103.7 L252.0,105.0 L251.5,106.2 L251.0,107.4 L250.5,108.5 L250.0,109.7 L249.5,110.9 L249.0,112.2 L248.4,113.6 L247.9,115.0 L247.3,116.4 L246.7,118.0 L246.2,119.8 L245.7,121.8 L245.2,124.4 L244.8,127.5 L244.4,130.9 L244.1,134.1 L243.8,136.9 L243.6,138.8 L253.0,146.0 L253.1,143.0 L253.2,138.7 L253.4,133.6 L253.6,128.4 L253.9,123.7 L254.2,120.0 L254.6,117.3 L255.2,115.3 L255.8,113.7 L256.4,112.4 L257.0,111.2 L257.5,110.0 L257.9,108.9 L258.3,108.0 L258.6,107.3 L258.9,106.6 L259.2,105.9 L259.5,105.0 L259.9,104.0 L260.3,102.9 L260.8,101.8 L261.2,100.6 L261.5,99.4 L261.8,98.0 L262.0,96.5 L262.2,94.9 L262.2,93.2 L262.3,91.4 L262.3,89.7 L262.2,88.0 L262.0,86.4 L261.8,85.0 L261.5,83.5 L261.2,81.9 L260.9,80.1 L260.5,78.0 L260.1,75.5 L259.7,72.7 L259.2,69.6 L258.8,66.4 L258.4,63.2 L258.0,60.0 L257.7,56.7 L257.4,53.3 L257.2,49.9 L256.9,46.4 L256.7,43.1 L256.5,40.0 L256.3,37.0 L256.0,33.9 L255.8,31.0 L255.6,28.3 L255.4,25.9 L255.3,24.0 L255.2,22.6 L255.1,21.6 L255.1,21.0 L255.0,20.6 L255.0,20.3 L255.0,20.0 Z" filter="url(#noiseW)" opacity="0.4"/>
<path d="M233,20 L237.5,20.0 L237.5,20.3 L237.6,20.6 L237.6,21.0 L237.7,21.6 L237.8,22.6 L238.0,24.0 L238.3,25.9 L238.6,28.3 L238.9,31.0 L239.3,33.9 L239.7,37.0 L240.0,40.0 L240.3,43.1 L240.5,46.4 L240.7,49.9 L240.9,53.3 L241.2,56.7 L241.5,60.0 L241.9,63.2 L242.3,66.4 L242.7,69.6 L243.2,72.7 L243.6,75.5 L244.0,78.0 L244.4,80.2 L244.8,82.0 L245.2,83.6 L245.5,85.1 L245.9,86.5 L246.2,88.0 L246.6,89.4 L247.0,90.8 L247.3,92.1 L247.6,93.3 L247.7,94.6 L247.6,96.0 L247.2,97.4 L246.5,98.9 L245.6,100.4 L244.7,101.9 L243.7,103.4 L242.9,105.0 L242.1,106.6 L241.4,108.3 L240.7,110.0 L239.9,111.7 L239.3,113.4 L238.6,115.0 L238.0,116.6 L237.4,118.2 L236.9,119.8 L236.4,121.3 L235.8,122.7 L235.3,124.0 L234.7,125.2 L234.1,126.4 L233.4,127.6 L232.9,128.6 L232.4,129.4 L232.0,130.0 L233,140 Z" fill="url(#lumC)"/>
<rect x="233" y="20" width="2.5" height="120" fill="#f8d4d6" opacity="0.8"/>
</g>
<rect x="233" y="6" width="131" height="17.6" fill="#000"/>
<text x="298.6" y="18.4" font-size="9.9" font-weight="bold" fill="#fff" class="w" text-anchor="middle">HE</text>
<rect x="233" y="126" width="20.3" height="20" fill="#fff"/>
<text x="239.2" y="140.8" font-size="11" font-weight="bold" fill="#000" textLength="7.8" lengthAdjust="spacingAndGlyphs">C</text>
<g clip-path="url(#cpD)">
<rect x="368" y="23.5" width="130" height="122.5" fill="#f4badc"/>
<g filter="url(#blur4)">
<ellipse cx="445" cy="82" rx="34" ry="44" fill="#fadff0"/>
<ellipse cx="447" cy="84" rx="18" ry="26" fill="#fdeef6"/>
<ellipse cx="492" cy="60" rx="12" ry="40" fill="#f0aad8"/>
<ellipse cx="420" cy="142" rx="40" ry="10" fill="#eea6d2"/>
</g>
<path d="M385,22 L405,22 L400,60 L396,100 L398,146 L378,146 L376,100 L380,60 Z" fill="#f0a2d0" filter="url(#blur3)"/>
<rect x="368" y="23.5" width="130" height="122.5" filter="url(#noiseP)" opacity="0.55"/>
<rect x="368" y="23.5" width="130" height="122.5" filter="url(#noiseW)" opacity="0.25"/>
<rect x="368" y="23.5" width="130" height="122.5" filter="url(#nuc)" opacity="0.7"/>
<rect x="368" y="23.5" width="130" height="122.5" filter="url(#nuc2)" opacity="0.6"/>
<path d="M387.5,20.0 L386.7,25.0 L383.9,36.6 L382.2,49.8 L382.2,59.7 L383.4,64.7 L382.6,69.7 L380.0,78.0 L377.9,86.2 L376.3,96.6 L376.8,109.8 L378.9,123.0 L379.5,146.0 L379.5,150.0 L386.0,150.0 L386.0,146.0 L385.4,123.0 L383.3,109.8 L382.8,96.6 L384.4,86.2 L386.5,78.0 L389.1,69.7 L389.9,64.7 L388.7,59.7 L388.7,49.8 L390.4,36.6 L393.2,25.0 L394.0,20.0 Z" fill="#ec84c8"/>
<path d="M368,20 L387.5,20.0 L386.7,25.0 L383.9,36.6 L382.2,49.8 L382.2,59.7 L383.4,64.7 L382.6,69.7 L380.0,78.0 L377.9,86.2 L376.3,96.6 L376.8,109.8 L378.9,123.0 L379.5,146.0 L379.5,150.0 L368,150 Z" fill="#f6b8c8"/>
<rect x="368" y="20" width="5" height="130" fill="#f8c6d0" opacity="0.6"/>
<path d="M388.8,20.0 L388.0,25.0 L385.2,36.6 L383.5,49.8 L383.5,59.7 L384.7,64.7 L383.9,69.7 L381.3,78.0 L379.2,86.2 L377.6,96.6 L378.1,109.8 L380.2,123.0 L380.8,146.0 L380.8,150.0" fill="none" stroke="#d42a9c" stroke-width="2.6"/>
</g>
<rect x="368" y="6" width="130" height="17.6" fill="#000"/>
<text x="433.1" y="18.4" font-size="9.9" font-weight="bold" fill="#fff" class="w" text-anchor="middle">HE</text>
<rect x="368" y="126" width="20" height="20" fill="#fff"/>
<text x="374" y="140.8" font-size="11" font-weight="bold" fill="#000" textLength="7.8" lengthAdjust="spacingAndGlyphs">D</text>
<g clip-path="url(#cpE)">
<rect x="233" y="150" width="131" height="122" fill="#000"/>
<path d="M275,167 L364,167 L364,272 L238,272 L241,265 L246,249 L252,231 L261,200 Z" fill="#1846c4"/>
<path d="M275,167 L277,167 L268,200 L260,231 L253,250 L248,272 L238,272 L241,265 L246,249 L252,231 L261,200 Z" fill="#03092a"/>
<path d="M277,167 L286,167 L278,200 L270,231 L264,250 L258,272 L248,272 L253,250 L260,231 L268,200 Z" fill="#1c52d6"/>
<path d="M286,167 L290,167 L282,200 L274,231 L268,250 L263,272 L258,272 L264,250 L270,231 L278,200 Z" fill="#0a2068"/>
<path d="M290,167 L312,167 L303.5,185 L295.5,200 L292,208 L286,225 L282,245 L279,272 L263,272 L268,250 L274,231 L282,200 Z" fill="#2464ee"/>
<path d="M312,167 L326,167 L312,200 L302,230 L296,250 L294,272 L279,272 L282,245 L286,225 L292,208 L295.5,200 L303.5,185 Z" fill="#2262e8"/>
<g filter="url(#blur2)">
<ellipse cx="345" cy="205" rx="10" ry="16" fill="#0c2a80"/>
<ellipse cx="310" cy="255" rx="12" ry="18" fill="#081e68"/>
<ellipse cx="340" cy="262" rx="14" ry="8" fill="#0c2878"/>
<ellipse cx="322" cy="200" rx="6" ry="22" fill="#0e2e8a"/>
<ellipse cx="350" cy="178" rx="12" ry="8" fill="#1a50d0"/>
</g>
<rect x="233" y="150" width="131" height="122" filter="url(#noiseB)" opacity="0.85"/>
<rect x="233" y="150" width="131" height="122" filter="url(#noiseBB)" opacity="0.45"/>
<g filter="url(#blurS)">
<path d="M290,167 L312,167 L303.5,185 L295.5,200 L292,208 L286,225 L282,245 L279,272 L263,272 L268,250 L274,231 L282,200 Z" fill="#2464ee" opacity="0.55"/>
<path d="M312,167 L322,167 L310,200 L300,230 L294,250 L291,272 L279,272 L282,245 L286,225 L292,208 L295.5,200 L303.5,185 Z" fill="#2262e8" opacity="0.45"/>
<path d="M286,167 L290,167 L282,200 L274,231 L268,250 L263,272 L258,272 L264,250 L270,231 L278,200 Z" fill="#020a2c" opacity="0.4"/>
</g>
<path d="M233,150 L364,150 L364,167 L275,167 L261,200 L252,231 L246,249 L241,265 L238,272 L233,272 Z" fill="#000"/>
<path d="M275,167 L261,200 L252,231 L246,249 L241,265" fill="none" stroke="#287828" stroke-width="1.2" opacity="0.9"/>
<path d="M309.5,167 L303,182" stroke="#40e0c0" stroke-width="1.6" opacity="0.85"/>
<path d="M296,176.6 L294,183" stroke="#c81c44" stroke-width="2.6" opacity="0.85"/>
<path d="M270.2,237 C269,241 268.6,245 269,249" stroke="#e0203c" stroke-width="2.4" fill="none"/>
<path d="M268.7,258 L264,270" stroke="#e0203c" stroke-width="2.4"/>
<circle cx="276.5" cy="256.4" r="1.8" fill="#30e0b0"/>
<path d="M327.2,218.9 L342.8,226.7 L338.9,208.8" fill="none" stroke="#e83a3a" stroke-width="2.2"/>
<path d="M350.6,226 L342.8,237.6" stroke="#e82a40" stroke-width="3.6"/>
<circle cx="325.6" cy="237.6" r="1.9" fill="none" stroke="#40e040" stroke-width="1.2"/>
<path d="M328,252.5 L345.9,250.1 L336.6,265.7" fill="none" stroke="#70ee50" stroke-width="2"/>
<path d="M347.5,245 C348.5,241.5 355,240.5 358.5,242.5 C361,244.5 360.5,249.5 357,251.5 C353,252.5 349.5,251.5 347.5,249 Z" fill="#04102e" fill-opacity="0.85" stroke="#38c838" stroke-width="1.1"/>
<path d="M335,167.5 L336,172" stroke="#d02848" stroke-width="1.5" opacity="0.8"/>
<circle cx="311.5" cy="168.5" r="1.3" fill="#fff"/><circle cx="310.0" cy="171.6" r="1.3" fill="#fff"/><circle cx="308.5" cy="174.6" r="1.3" fill="#fff"/><circle cx="307.1" cy="177.7" r="1.3" fill="#fff"/><circle cx="305.6" cy="180.7" r="1.3" fill="#fff"/><circle cx="304.1" cy="183.8" r="1.3" fill="#fff"/><circle cx="302.5" cy="186.8" r="1.3" fill="#fff"/><circle cx="300.9" cy="189.8" r="1.3" fill="#fff"/><circle cx="299.4" cy="192.8" r="1.3" fill="#fff"/><circle cx="297.8" cy="195.8" r="1.3" fill="#fff"/><circle cx="296.2" cy="198.8" r="1.3" fill="#fff"/><circle cx="294.7" cy="201.8" r="1.3" fill="#fff"/><circle cx="293.3" cy="204.9" r="1.3" fill="#fff"/><circle cx="292.0" cy="208.0" r="1.3" fill="#fff"/><circle cx="290.9" cy="211.2" r="1.3" fill="#fff"/><circle cx="289.7" cy="214.4" r="1.3" fill="#fff"/><circle cx="288.6" cy="217.6" r="1.3" fill="#fff"/><circle cx="287.5" cy="220.8" r="1.3" fill="#fff"/><circle cx="286.3" cy="224.0" r="1.3" fill="#fff"/><circle cx="285.5" cy="227.3" r="1.3" fill="#fff"/><circle cx="284.9" cy="230.7" r="1.3" fill="#fff"/><circle cx="284.2" cy="234.0" r="1.3" fill="#fff"/><circle cx="283.5" cy="237.3" r="1.3" fill="#fff"/><circle cx="282.9" cy="240.7" r="1.3" fill="#fff"/><circle cx="282.2" cy="244.0" r="1.3" fill="#fff"/><circle cx="281.8" cy="247.3" r="1.3" fill="#fff"/><circle cx="281.5" cy="250.7" r="1.3" fill="#fff"/><circle cx="281.2" cy="254.1" r="1.3" fill="#fff"/><circle cx="280.8" cy="257.5" r="1.3" fill="#fff"/><circle cx="280.5" cy="260.9" r="1.3" fill="#fff"/><circle cx="280.2" cy="264.2" r="1.3" fill="#fff"/><circle cx="279.9" cy="267.6" r="1.3" fill="#fff"/><circle cx="279.6" cy="271.0" r="1.3" fill="#fff"/>
</g>
<text x="246.3" y="162.3" font-size="10" font-weight="bold" fill="#d8323c" class="r" textLength="31.9" lengthAdjust="spacingAndGlyphs">LYVE-1</text>
<text x="283.5" y="162.3" font-size="10" font-weight="bold" fill="#7ed85a" class="g" textLength="41.2" lengthAdjust="spacingAndGlyphs">MECA-32</text>
<text x="327.8" y="162.3" font-size="10" font-weight="bold" fill="#4a6ad0" class="b" textLength="21.9" lengthAdjust="spacingAndGlyphs">DAPI</text>
<rect x="233" y="251.8" width="20.3" height="20.2" fill="#fff"/>
<text x="239.4" y="266.2" font-size="11" font-weight="bold" fill="#000" textLength="7.2" lengthAdjust="spacingAndGlyphs">E</text>
<g clip-path="url(#cpF)">
<rect x="368" y="150" width="130" height="122" fill="#000"/>
<rect x="394" y="167" width="104" height="105" fill="#1848c8"/>
<path d="M384.2,167 L390.8,167 L390.2,200 L391,240 L390.4,272 L384,272 L384.6,240 L384,200 Z" fill="#1a50d4"/>
<path d="M390.8,167 L394.2,167 L394.2,272 L390.4,272 Z" fill="#030c34"/>
<g filter="url(#blur2)">
<ellipse cx="455" cy="255" rx="20" ry="12" fill="#0c2a80"/>
<ellipse cx="475" cy="205" rx="12" ry="10" fill="#10308e"/>
<ellipse cx="445" cy="225" rx="10" ry="8" fill="#1e56d8"/>
</g>
<rect x="368" y="150" width="130" height="122" filter="url(#noiseB)" opacity="0.85"/>
<rect x="368" y="150" width="130" height="122" filter="url(#noiseBB)" opacity="0.45"/>
<path d="M390.6,167 L394.6,167 L394.2,200 L395,240 L394.4,272 L390.2,272 L390.8,240 L390.2,200 Z" fill="#01061c" opacity="0.75"/>
<rect x="368" y="150" width="17" height="122" fill="#000"/>
<rect x="368" y="150" width="130" height="17" fill="#000"/>
<path d="M396,170 C394,176 398,178 402,177 C407,176 408,172 404,169" fill="none" stroke="#2a64f4" stroke-width="2.2"/>
<path d="M430,175 C434,178 434,184 430,187" fill="none" stroke="#38e0b0" stroke-width="1.8"/>
<path d="M392.5,203 L393.3,212" stroke="#30c040" stroke-width="1.6"/>
<path d="M402,198 L405,204" stroke="#e03050" stroke-width="1.8"/>
<path d="M405.5,190.5 L406.5,197.5" stroke="#30d8c0" stroke-width="2" opacity="0.9"/>
<path d="M403.4,215.8 L410.5,228.3" stroke="#e060c0" stroke-width="2"/>
<path d="M397.5,226 C400,230 400,235 398,239" fill="none" stroke="#30e0b0" stroke-width="2"/>
<ellipse cx="405" cy="244.7" rx="3.8" ry="2.8" fill="#30b040"/>
<ellipse cx="406.6" cy="256.4" rx="3" ry="2.4" fill="#28a040"/>
<path d="M405,265 L407,268" stroke="#e04080" stroke-width="1.6"/>
<circle cx="432" cy="214.5" r="1.4" fill="#30e0b0"/>
<circle cx="446" cy="198" r="1" fill="#30e0b0"/>
<circle cx="439" cy="228" r="1" fill="#30e0b0"/>
<circle cx="432.0" cy="170.5" r="1.3" fill="#fff"/><circle cx="431.1" cy="173.8" r="1.3" fill="#fff"/><circle cx="430.3" cy="177.0" r="1.3" fill="#fff"/><circle cx="429.4" cy="180.2" r="1.3" fill="#fff"/><circle cx="428.5" cy="183.5" r="1.3" fill="#fff"/><circle cx="427.7" cy="186.8" r="1.3" fill="#fff"/><circle cx="426.8" cy="190.0" r="1.3" fill="#fff"/><circle cx="425.9" cy="193.2" r="1.3" fill="#fff"/><circle cx="425.1" cy="196.5" r="1.3" fill="#fff"/><circle cx="424.2" cy="199.8" r="1.3" fill="#fff"/><circle cx="423.3" cy="203.0" r="1.3" fill="#fff"/><circle cx="422.5" cy="206.2" r="1.3" fill="#fff"/><circle cx="422.0" cy="209.5" r="1.3" fill="#fff"/><circle cx="422.0" cy="212.8" r="1.3" fill="#fff"/><circle cx="421.9" cy="216.0" r="1.3" fill="#fff"/><circle cx="421.9" cy="219.2" r="1.3" fill="#fff"/><circle cx="421.9" cy="222.5" r="1.3" fill="#fff"/><circle cx="421.8" cy="225.8" r="1.3" fill="#fff"/><circle cx="421.8" cy="229.0" r="1.3" fill="#fff"/><circle cx="421.8" cy="232.2" r="1.3" fill="#fff"/><circle cx="421.7" cy="235.5" r="1.3" fill="#fff"/><circle cx="421.7" cy="238.8" r="1.3" fill="#fff"/><circle cx="421.7" cy="242.0" r="1.3" fill="#fff"/><circle cx="421.6" cy="245.2" r="1.3" fill="#fff"/><circle cx="421.6" cy="248.5" r="1.3" fill="#fff"/><circle cx="421.6" cy="251.8" r="1.3" fill="#fff"/><circle cx="421.6" cy="255.0" r="1.3" fill="#fff"/><circle cx="421.5" cy="258.2" r="1.3" fill="#fff"/><circle cx="421.5" cy="261.5" r="1.3" fill="#fff"/><circle cx="421.5" cy="264.8" r="1.3" fill="#fff"/><circle cx="421.4" cy="268.0" r="1.3" fill="#fff"/><circle cx="421.4" cy="271.2" r="1.3" fill="#fff"/>
</g>
<text x="381" y="162.3" font-size="10" font-weight="bold" fill="#d8323c" class="r" textLength="32" lengthAdjust="spacingAndGlyphs">LYVE-1</text>
<text x="417.2" y="162.3" font-size="10" font-weight="bold" fill="#7ed85a" class="g" textLength="41.8" lengthAdjust="spacingAndGlyphs">MECA-32</text>
<text x="462.7" y="162.3" font-size="10" font-weight="bold" fill="#4a6ad0" class="b" textLength="21.6" lengthAdjust="spacingAndGlyphs">DAPI</text>
<rect x="368" y="251.8" width="20" height="20.2" fill="#fff"/>
<text x="374.6" y="266.2" font-size="11" font-weight="bold" fill="#000" textLength="6.6" lengthAdjust="spacingAndGlyphs">F</text>
</svg></body></html>
